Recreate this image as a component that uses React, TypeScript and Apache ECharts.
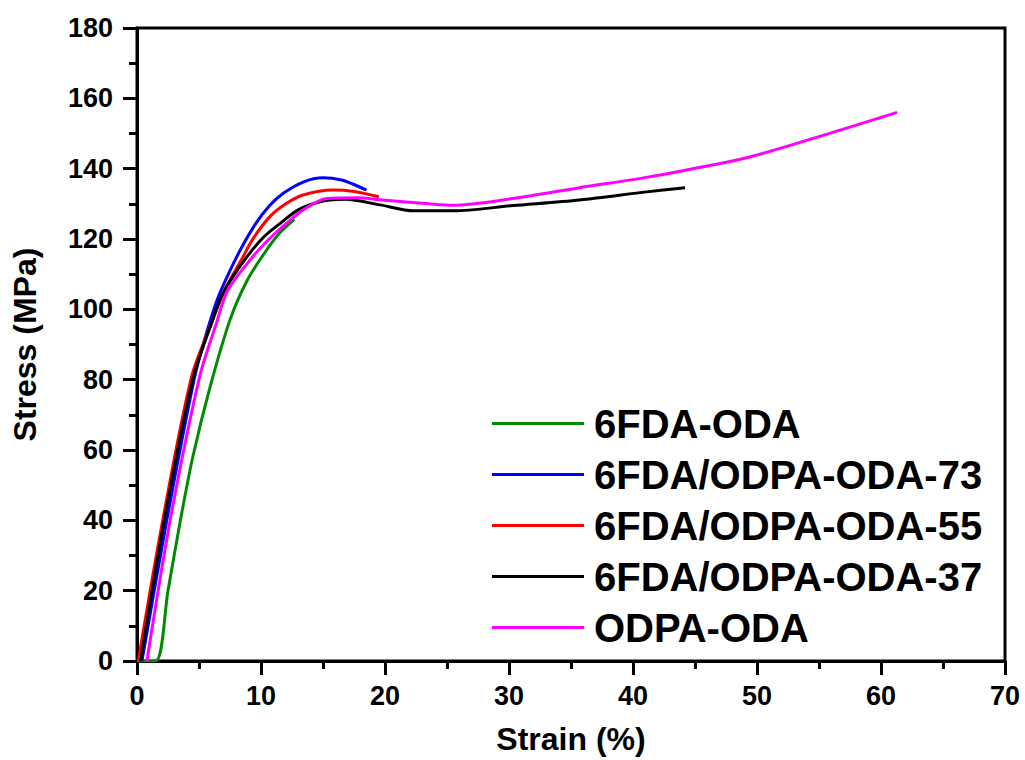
import React, { useEffect, useRef } from "react";
import * as echarts from "echarts";

const seriesNames = [
  "6FDA-ODA",
  "6FDA/ODPA-ODA-73",
  "6FDA/ODPA-ODA-55",
  "6FDA/ODPA-ODA-37",
  "ODPA-ODA",
];
const seriesColors = ["#008a00", "#0000ff", "#ff0000", "#000000", "#ff00ff"];

const strainA = [0, 1.5, 2.5, 3.5, 4.5, 5.9, 7.5, 8.85, 10.2, 11.5, 12.7];
const stressA = [0, 0, 20, 40, 58, 78, 97, 108, 115.6, 121.7, 125.6];

const strainB = [0.4, 2.4, 4.6, 5.5, 6.5, 7.5, 8.5, 9.6, 10.7, 11.8, 13.4, 15.0, 16.5, 17.5, 18.5];
const stressB = [0, 40, 80, 92, 103, 111, 118, 124.5, 129.5, 133, 136.2, 137.4, 136.8, 135.5, 133.9];

const strainC = [0.1, 2.1, 4.4, 6.0, 7.0, 8.5, 9.4, 10.7, 12.0, 13.4, 15.8, 17.5, 19.5];
const stressC = [0, 40.5, 80.8, 96, 105, 114.6, 120.3, 126.3, 130, 132.5, 133.9, 133.5, 132];

const strainD = [0.3, 2.2, 4.5, 6.0, 7.0, 8.8, 10.2, 11.5, 13.0, 15.0, 16.8, 19.6, 22.3, 25.5, 30.3, 35.7, 41.1, 44.2];
const stressD = [0, 40, 80, 96, 105, 114.6, 120.5, 124.3, 128.3, 130.8, 131.3, 129.7, 128.0, 128.0, 129.5, 131.1, 133.4, 134.6];

const strainE = [0.8, 2.7, 5.05, 6.4, 7.3, 9.25, 10.6, 11.9, 13.5, 15.3, 17.7, 19.8, 23.6, 25.5, 30.3, 35.7, 41.2, 46.2, 49.4, 54.8, 61.3];
const stressE = [0, 40.5, 80.8, 96, 105.3, 114.6, 119.8, 124, 128.5, 131.5, 131.7, 131.1, 130.0, 129.6, 131.5, 134.6, 137.6, 140.9, 143.3, 148.9, 156.0];

const strainSets = [strainA, strainB, strainC, strainD, strainE];
const stressSets = [stressA, stressB, stressC, stressD, stressE];

const FONT = "'Liberation Sans', Arial, Helvetica, sans-serif";

export default function App() {
  const ref = useRef<HTMLDivElement>(null);
  useEffect(() => {
    if (!ref.current) return;
    const chart = echarts.init(ref.current, undefined, { renderer: "svg" });
    const axisCommon = {
      type: "value" as const,
      axisLine: { show: true, onZero: false, lineStyle: { color: "#000", width: 3 } },
      axisTick: { show: true, inside: false, length: 14, lineStyle: { color: "#000", width: 3 } },
      minorTick: { show: true, splitNumber: 2, length: 8, lineStyle: { color: "#000", width: 3 } },
      splitLine: { show: false },
      minorSplitLine: { show: false },
      axisLabel: { color: "#000", fontSize: 27, fontWeight: "bold" as const, fontFamily: FONT },
      nameLocation: "middle" as const,
      nameTextStyle: { color: "#000", fontSize: 32, fontWeight: "bold" as const, fontFamily: FONT },
    };
    chart.setOption({
      animation: false,
      backgroundColor: "#ffffff",
      grid: {
        left: 137,
        right: 20,
        top: 28,
        bottom: 93,
        show: true,
        borderColor: "#000",
        borderWidth: 3,
        backgroundColor: "transparent",
      },
      legend: {
        orient: "vertical",
        left: 492,
        top: 398,
        padding: 0,
        itemWidth: 92,
        itemHeight: 3,
        itemGap: 0,
        icon: "rect",
        selectedMode: false,
        data: seriesNames,
        textStyle: {
          color: "#000",
          fontSize: 40,
          fontWeight: "bold",
          fontFamily: FONT,
          lineHeight: 51,
          padding: [0, 0, 0, 5],
        },
      },
      xAxis: {
        ...axisCommon,
        min: 0,
        max: 70,
        interval: 10,
        name: "Strain (%)",
        nameGap: 62,
        axisLabel: { ...axisCommon.axisLabel, margin: 21 },
      },
      yAxis: {
        ...axisCommon,
        min: 0,
        max: 180,
        interval: 20,
        name: "Stress (MPa)",
        nameGap: 96,
        axisLabel: { ...axisCommon.axisLabel, margin: 24 },
      },
      series: seriesNames.map((name, i) => ({
        name,
        type: "line",
        data: strainSets[i].map((x, j) => [x, stressSets[i][j]]),
        smooth: 0.3,
        symbol: "none",
        showSymbol: false,
        lineStyle: { color: seriesColors[i], width: 3 },
        itemStyle: { color: seriesColors[i] },
        z: 2 + i,
      })),
    });
    return () => chart.dispose();
  }, []);
  return (
    <div
      ref={ref}
      style={{ position: "fixed", left: 0, top: 0, width: 1025, height: 760 }}
    />
  );
}
